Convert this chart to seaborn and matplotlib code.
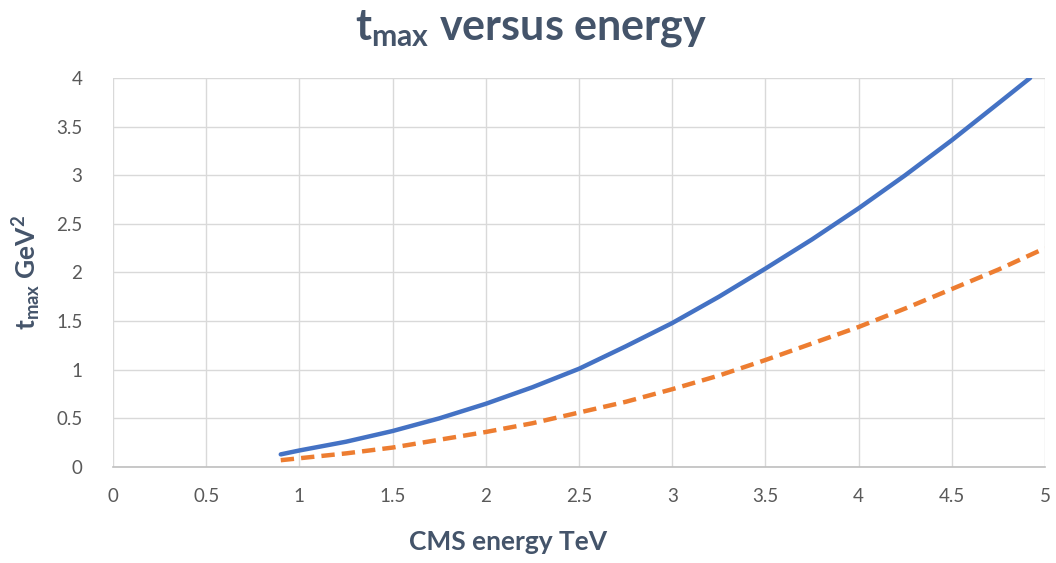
import pandas as pd
import matplotlib
matplotlib.use('Agg')
import matplotlib.pyplot as plt
import matplotlib.ticker as mticker
import seaborn as sns

# ==== Data ====
energy_a = [0.9, 1.0, 1.25, 1.5, 1.75, 2.0, 2.25, 2.5, 2.75, 3.0, 3.25, 3.5, 3.75, 4.0, 4.25, 4.5, 4.75, 4.92]
tmax_a = [0.13, 0.17, 0.26, 0.37, 0.50, 0.65, 0.82, 1.01, 1.24, 1.48, 1.75, 2.04, 2.34, 2.66, 3.0, 3.36, 3.74, 4.0]

energy_b = [0.9, 1.0, 1.25, 1.5, 1.75, 2.0, 2.25, 2.5, 2.75, 3.0, 3.25, 3.5, 3.75, 4.0, 4.25, 4.5, 4.75, 5.0]
tmax_b = [0.07, 0.09, 0.14, 0.2, 0.28, 0.36, 0.45, 0.56, 0.67, 0.8, 0.94, 1.1, 1.27, 1.44, 1.63, 1.83, 2.03, 2.25]

x_ticks = [0, 0.5, 1, 1.5, 2, 2.5, 3, 3.5, 4, 4.5, 5]
y_ticks = [0, 0.5, 1, 1.5, 2, 2.5, 3, 3.5, 4]

df = pd.concat([
    pd.DataFrame({"energy": energy_a, "tmax": tmax_a, "series": "a"}),
    pd.DataFrame({"energy": energy_b, "tmax": tmax_b, "series": "b"}),
])

sns.set_style("white")
plt.rcParams["font.family"] = ["Lato", "DejaVu Sans"]
plt.rcParams["mathtext.fontset"] = "custom"
plt.rcParams["mathtext.rm"] = "Lato"
plt.rcParams["mathtext.bf"] = "Lato:bold"
plt.rcParams["mathtext.it"] = "Lato:bold"

label_color = "#44546A"
tick_color = "#595959"
grid_color = "#D9D9D9"

fig = plt.figure(figsize=(10.56, 5.63), dpi=100)
ax = fig.add_axes([0.107, 0.1705, 0.8826, 0.691])

sns.lineplot(
    data=df, x="energy", y="tmax", hue="series", style="series",
    palette={"a": "#4472C4", "b": "#ED7D31"},
    dashes={"a": "", "b": (3.0, 1.6)},
    linewidth=3.2, legend=False, ax=ax, sort=False
)
for line in ax.lines:
    line.set_solid_capstyle("round")
    line.set_solid_joinstyle("round")

ax.set_xlim(0, 5)
ax.set_ylim(0, 4)
ax.set_xticks(x_ticks)
ax.set_yticks(y_ticks)
fmt = mticker.FuncFormatter(lambda v, p: f"{v:g}")
ax.xaxis.set_major_formatter(fmt)
ax.yaxis.set_major_formatter(fmt)
ax.tick_params(axis="both", length=0, labelsize=13.5, colors=tick_color)
ax.tick_params(axis="x", pad=15)
ax.tick_params(axis="y", pad=22)

ax.grid(True, color=grid_color, linewidth=1)
for side in ["top", "right", "left"]:
    ax.spines[side].set_visible(False)
ax.spines["bottom"].set_color("#BFBFBF")
ax.spines["bottom"].set_linewidth(1.2)

ax.set_xlabel("CMS energy TeV", fontsize=19, fontweight="bold", color=label_color)
ax.xaxis.set_label_coords(0.424, -0.163)
ax.set_ylabel(r"$\mathbf{t_{max}}$ GeV$^\mathbf{2}$", fontsize=19, fontweight="bold",
              color=label_color)
ax.yaxis.set_label_coords(-0.075, 0.5)

fig.suptitle(r"$\mathbf{t_{max}}$ versus energy", fontsize=31, fontweight="bold",
             color=label_color, x=0.503, y=0.985)

plt.savefig("out.png", dpi=100)
plt.close()
